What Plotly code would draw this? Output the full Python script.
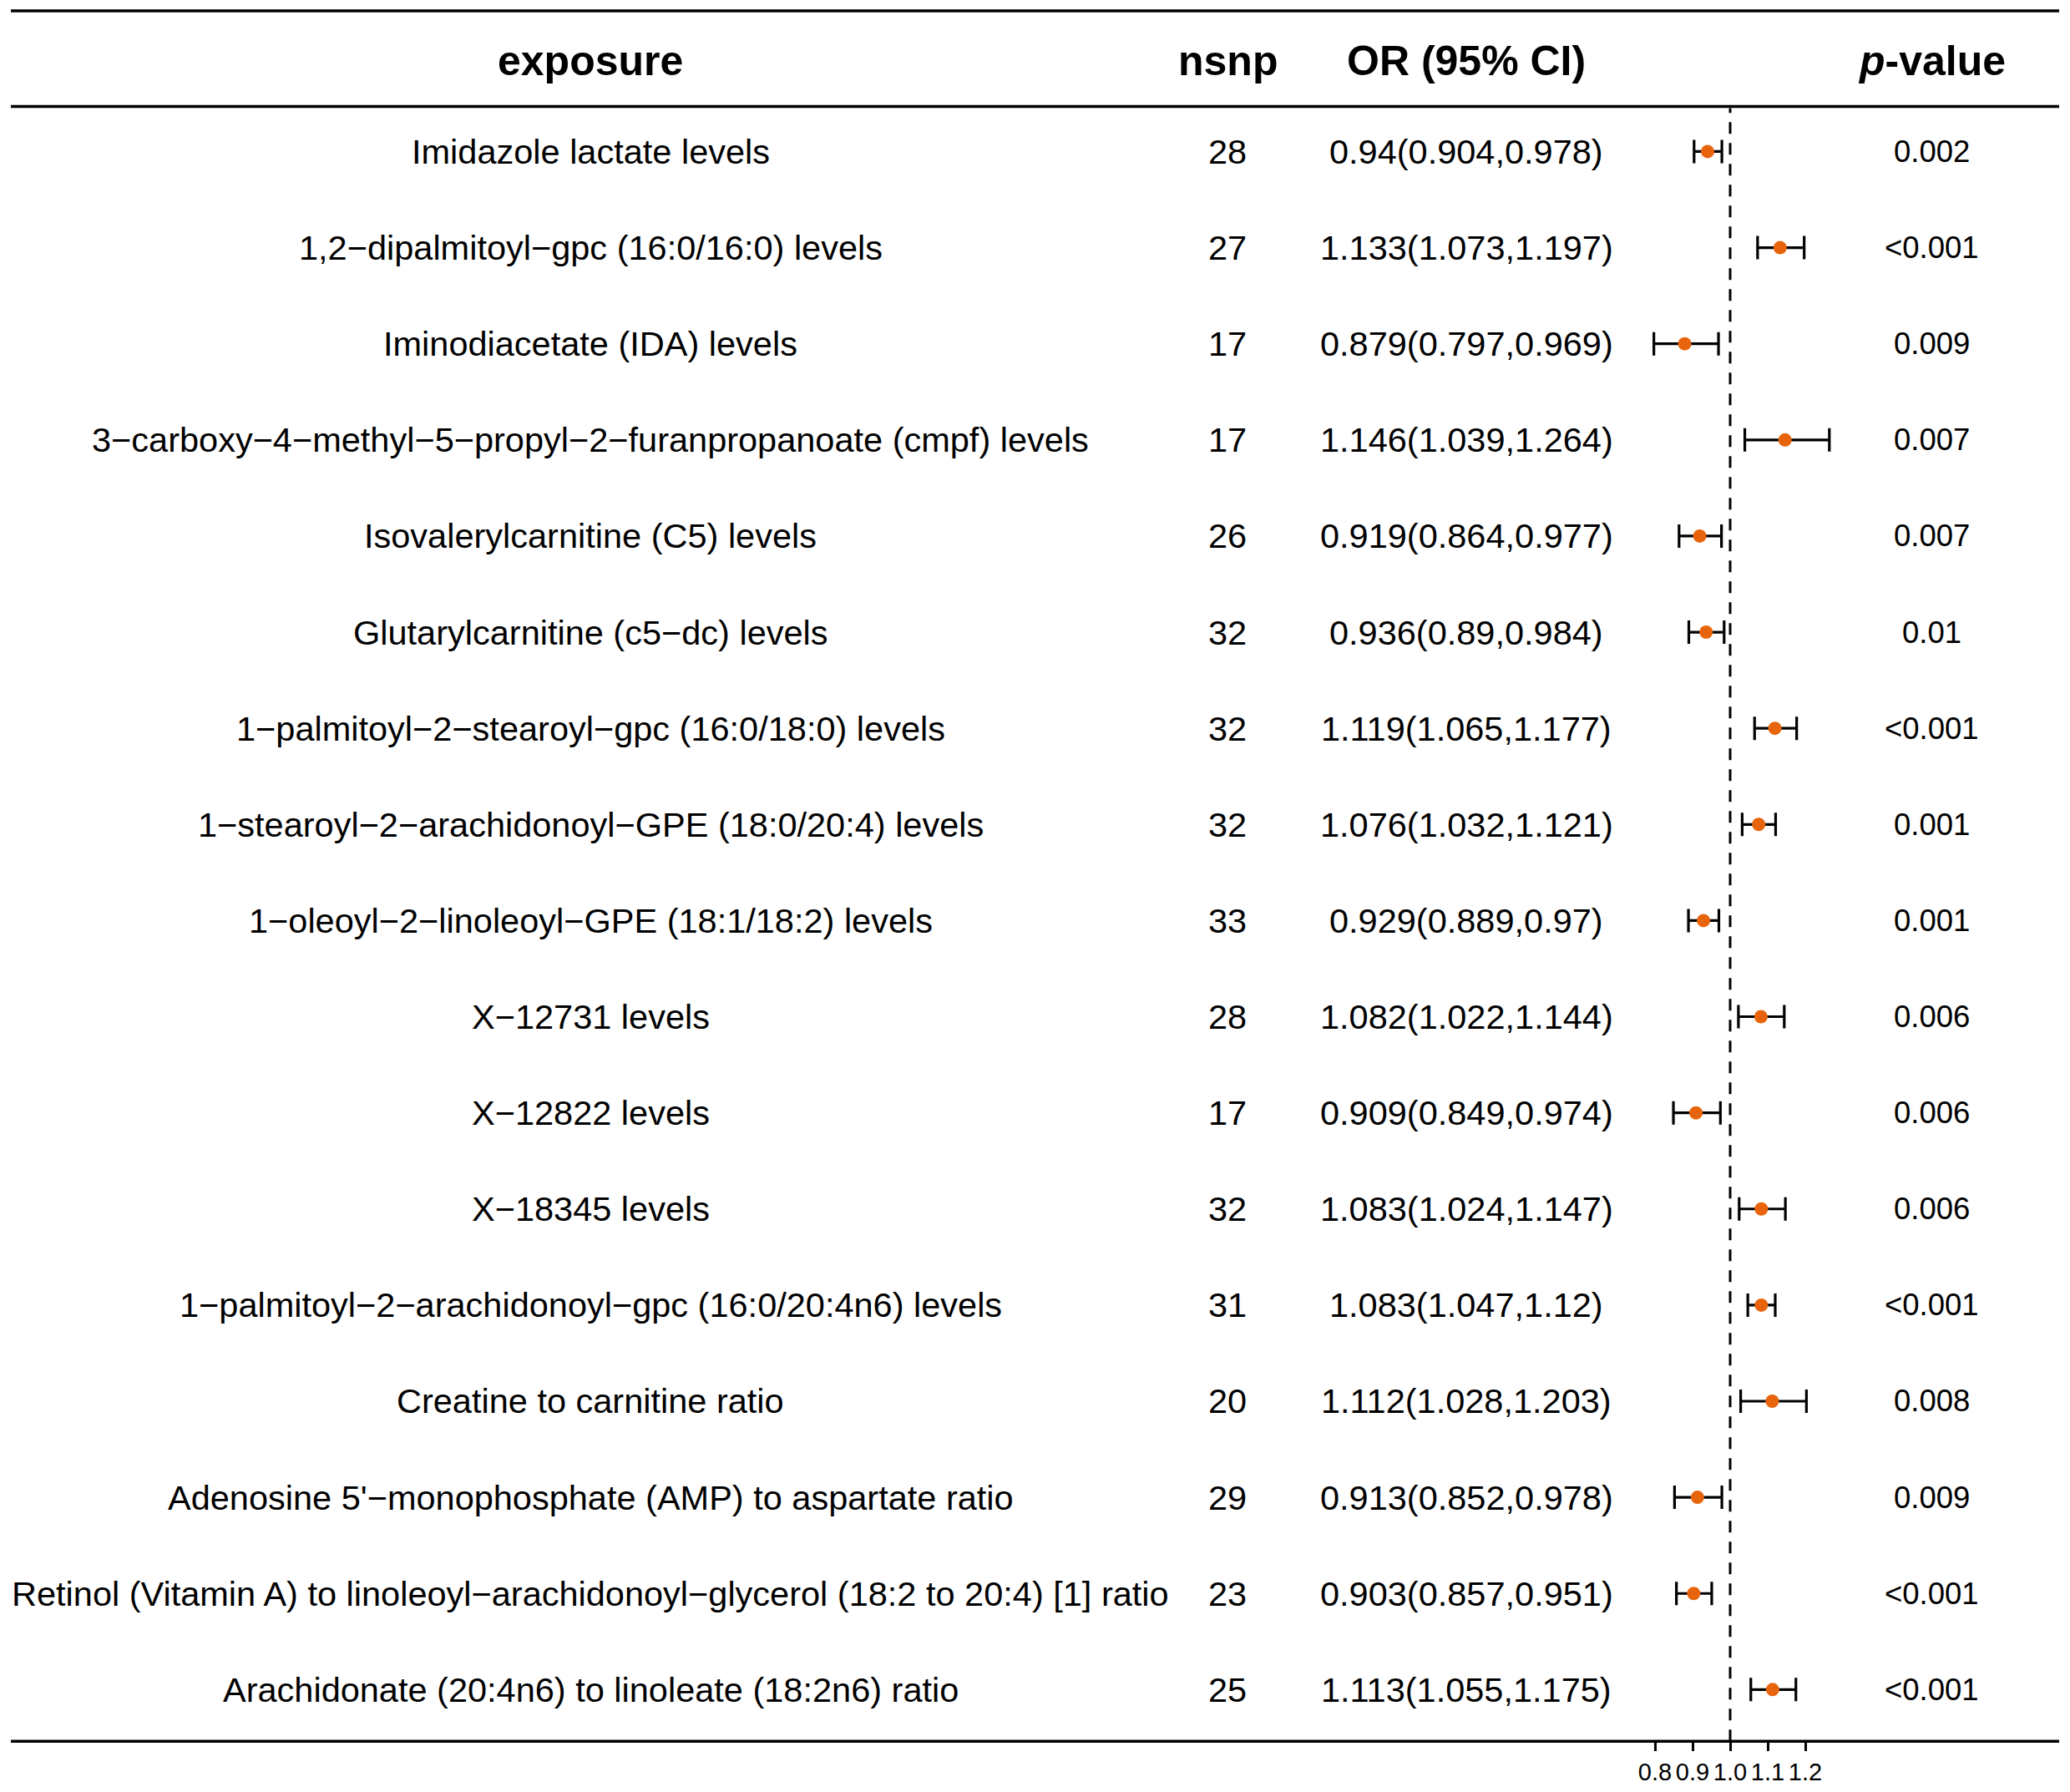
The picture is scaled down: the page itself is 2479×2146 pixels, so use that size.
import plotly.graph_objects as go

# ---------------- data ----------------
exposure = [
    "Imidazole lactate levels",
    "1,2\u2212dipalmitoyl\u2212gpc (16:0/16:0) levels",
    "Iminodiacetate (IDA) levels",
    "3\u2212carboxy\u22124\u2212methyl\u22125\u2212propyl\u22122\u2212furanpropanoate (cmpf) levels",
    "Isovalerylcarnitine (C5) levels",
    "Glutarylcarnitine (c5\u2212dc) levels",
    "1\u2212palmitoyl\u22122\u2212stearoyl\u2212gpc (16:0/18:0) levels",
    "1\u2212stearoyl\u22122\u2212arachidonoyl\u2212GPE (18:0/20:4) levels",
    "1\u2212oleoyl\u22122\u2212linoleoyl\u2212GPE (18:1/18:2) levels",
    "X\u221212731 levels",
    "X\u221212822 levels",
    "X\u221218345 levels",
    "1\u2212palmitoyl\u22122\u2212arachidonoyl\u2212gpc (16:0/20:4n6) levels",
    "Creatine to carnitine ratio",
    "Adenosine 5'\u2212monophosphate (AMP) to aspartate ratio",
    "Retinol (Vitamin A) to linoleoyl\u2212arachidonoyl\u2212glycerol (18:2 to 20:4) [1] ratio",
    "Arachidonate (20:4n6) to linoleate (18:2n6) ratio",
]
nsnp = [28, 27, 17, 17, 26, 32, 32, 32, 33, 28, 17, 32, 31, 20, 29, 23, 25]
or_val = [0.94, 1.133, 0.879, 1.146, 0.919, 0.936, 1.119, 1.076, 0.929, 1.082,
          0.909, 1.083, 1.083, 1.112, 0.913, 0.903, 1.113]
ci_low = [0.904, 1.073, 0.797, 1.039, 0.864, 0.89, 1.065, 1.032, 0.889, 1.022,
          0.849, 1.024, 1.047, 1.028, 0.852, 0.857, 1.055]
ci_high = [0.978, 1.197, 0.969, 1.264, 0.977, 0.984, 1.177, 1.121, 0.97, 1.144,
           0.974, 1.147, 1.12, 1.203, 0.978, 0.951, 1.175]
pvalue = ["0.002", "<0.001", "0.009", "0.007", "0.007", "0.01", "<0.001", "0.001",
          "0.001", "0.006", "0.006", "0.006", "<0.001", "0.008", "0.009", "<0.001",
          "<0.001"]
tick_vals = [0.8, 0.9, 1.0, 1.1, 1.2]
tick_text = ["0.8", "0.9", "1.0", "1.1", "1.2"]
headers = ["exposure", "nsnp", "OR (95% CI)", "<i>p</i>-value"]

# ---------------- layout geometry (pixels in the photographed page) ----------------
OFF = 8                      # default page body margin
W, H = 2479 - 2 * OFF, 2146 - 2 * OFF
FONT = "Liberation Sans, Arial, Helvetica, sans-serif"
ORANGE = "#E8640C"

rows = list(range(len(exposure)))
row0_px, row_step = 182.0, 115.5
top_line_px, head_line_px, axis_line_px = 13, 128, 2092
header_px = 73

def py(px):
    return 1 - (px - OFF) / H

def pxx(px):
    return (px - OFF) / W

# forest panel x-axis: 1.0 at page px 2072, 450 px per unit
x_lo, x_hi = 0.7, 1.3
dom_x = [pxx(2072 + (x_lo - 1) * 450), pxx(2072 + (x_hi - 1) * 450)]
y_top = (head_line_px - row0_px) / row_step
y_bot = (axis_line_px - row0_px) / row_step

col_exp, col_n, col_or, col_p = 707, 1470, 1756, 2313

or_text = [f"{o}({l},{h})" for o, l, h in zip(or_val, ci_low, ci_high)]

fig = go.Figure()
fig.add_trace(go.Scatter(
    x=or_val, y=rows, mode="markers",
    marker=dict(size=16, color=ORANGE, line=dict(width=0)),
    error_x=dict(type="data", symmetric=False,
                 array=[h - o for o, h in zip(or_val, ci_high)],
                 arrayminus=[o - l for o, l in zip(or_val, ci_low)],
                 color="black", thickness=3.2, width=14),
    showlegend=False, hoverinfo="skip", cliponaxis=False,
))

annotations = []
for i in rows:
    annotations.append(dict(x=pxx(col_exp), y=i, xref="paper", yref="y", text=exposure[i],
                            showarrow=False, xanchor="center", yanchor="middle",
                            font=dict(family=FONT, size=41.5, color="black")))
    annotations.append(dict(x=pxx(col_n), y=i, xref="paper", yref="y", text=str(nsnp[i]),
                            showarrow=False, xanchor="center", yanchor="middle",
                            font=dict(family=FONT, size=41.5, color="black")))
    annotations.append(dict(x=pxx(col_or), y=i, xref="paper", yref="y", text=or_text[i],
                            showarrow=False, xanchor="center", yanchor="middle",
                            font=dict(family=FONT, size=41.5, color="black")))
    annotations.append(dict(x=pxx(col_p), y=i, xref="paper", yref="y", text=pvalue[i],
                            showarrow=False, xanchor="center", yanchor="middle",
                            font=dict(family=FONT, size=36.5, color="black")))
for cx, htxt in zip([col_exp, col_n, col_or, col_p], headers):
    annotations.append(dict(x=pxx(cx), y=py(header_px), xref="paper", yref="paper",
                            text=f"<b>{htxt}</b>", showarrow=False,
                            xanchor="center", yanchor="middle",
                            font=dict(family=FONT, size=50, color="black")))

shapes = []
for lp in [top_line_px, head_line_px, axis_line_px]:
    shapes.append(dict(type="line", xref="paper", yref="paper",
                       x0=pxx(13), x1=pxx(2466), y0=py(lp), y1=py(lp),
                       line=dict(color="black", width=3.5)))
shapes.append(dict(type="line", xref="x", yref="paper", x0=1.0, x1=1.0,
                   y0=py(axis_line_px), y1=py(head_line_px + 2),
                   line=dict(color="black", width=3, dash="14px,11px"),
                   layer="below"))

fig.update_layout(
    width=W, height=H, margin=dict(l=0, r=0, t=0, b=0),
    paper_bgcolor="white", plot_bgcolor="rgba(0,0,0,0)",
    annotations=annotations, shapes=shapes,
    xaxis=dict(domain=dom_x, range=[x_lo, x_hi], showgrid=False, zeroline=False,
               showline=False, tickmode="array", tickvals=tick_vals, ticktext=tick_text,
               ticks="outside", ticklen=11, tickwidth=3, tickcolor="black",
               tickfont=dict(family=FONT, size=29, color="black"), fixedrange=True),
    yaxis=dict(domain=[py(axis_line_px), py(head_line_px)], range=[y_bot, y_top],
               showgrid=False, zeroline=False, showline=False, showticklabels=False,
               ticks="", fixedrange=True),
    showlegend=False,
)

fig.write_html("out.html")
